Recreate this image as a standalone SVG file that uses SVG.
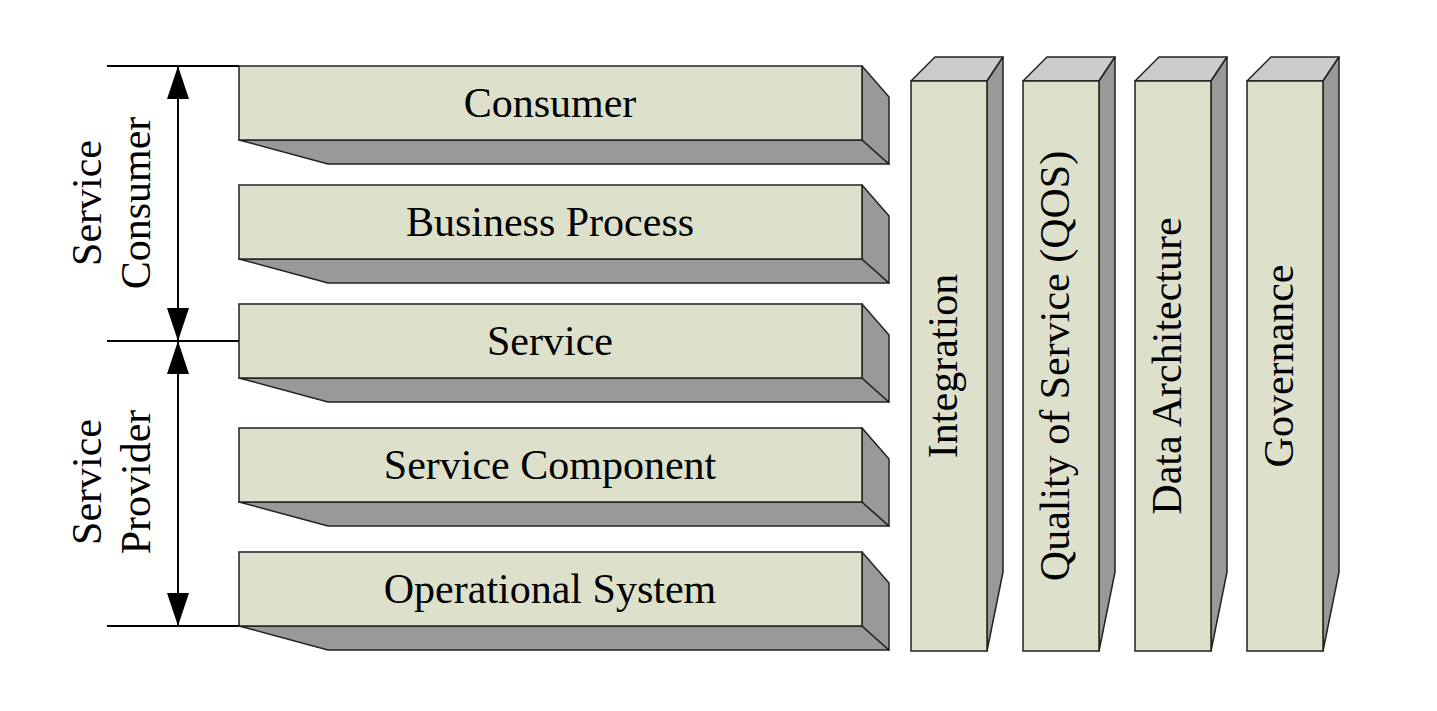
<svg xmlns="http://www.w3.org/2000/svg" width="1437" height="711" viewBox="0 0 1437 711">
<style>
.front{fill:#dde1cc;stroke:#222;stroke-width:1.5}
.side{fill:#999999;stroke:#222;stroke-width:1.5;stroke-linejoin:round}
.top{fill:#cccccc;stroke:#222;stroke-width:1.5;stroke-linejoin:round}
.lbl{font-family:"Liberation Serif","Times New Roman",serif;font-size:42px;fill:#000;text-anchor:middle}
.ln{stroke:#000;stroke-width:2;fill:none}
</style>
<defs>
<marker id="ah" viewBox="0 0 33 22" refX="33" refY="11" markerWidth="33" markerHeight="22" markerUnits="userSpaceOnUse" orient="auto">
<path d="M0,0 L33,11 L0,22 Z" fill="#000"/>
</marker>
</defs>
<rect width="1437" height="711" fill="#fff"/>

<g id="connectors">
<line class="ln" x1="107" y1="66" x2="239" y2="66"/>
<line class="ln" x1="107" y1="341" x2="239" y2="341"/>
<line class="ln" x1="107" y1="626" x2="239" y2="626"/>
<line class="ln" x1="178" y1="200" x2="178" y2="66" marker-end="url(#ah)"/>
<line class="ln" x1="178" y1="200" x2="178" y2="341" marker-end="url(#ah)"/>
<line class="ln" x1="178" y1="480" x2="178" y2="341" marker-end="url(#ah)"/>
<line class="ln" x1="178" y1="480" x2="178" y2="626" marker-end="url(#ah)"/>
</g>

<g id="label-service-consumer">
<text class="lbl" transform="translate(101,203) rotate(-90)">Service</text>
<text class="lbl" transform="translate(150,203) rotate(-90)">Consumer</text>
</g>
<g id="label-service-provider">
<text class="lbl" transform="translate(101,482) rotate(-90)">Service</text>
<text class="lbl" transform="translate(150,482) rotate(-90)">Provider</text>
</g>

<g id="consumer">
<polygon class="side" points="239,140 862,140 889,164 328,164"/>
<polygon class="side" points="862,66 889,97 889,164 862,140"/>
<rect class="front" x="239" y="66" width="623" height="74"/>
<text class="lbl" x="550" y="117">Consumer</text>
</g>
<g id="business-process">
<polygon class="side" points="239,259 862,259 889,283 328,283"/>
<polygon class="side" points="862,185 889,216 889,283 862,259"/>
<rect class="front" x="239" y="185" width="623" height="74"/>
<text class="lbl" x="550" y="236">Business Process</text>
</g>
<g id="service">
<polygon class="side" points="239,378 862,378 889,402 328,402"/>
<polygon class="side" points="862,304 889,335 889,402 862,378"/>
<rect class="front" x="239" y="304" width="623" height="74"/>
<text class="lbl" x="550" y="355">Service</text>
</g>
<g id="service-component">
<polygon class="side" points="239,502 862,502 889,526 328,526"/>
<polygon class="side" points="862,428 889,459 889,526 862,502"/>
<rect class="front" x="239" y="428" width="623" height="74"/>
<text class="lbl" x="550" y="479">Service Component</text>
</g>
<g id="operational-system">
<polygon class="side" points="239,626 862,626 889,650 328,650"/>
<polygon class="side" points="862,552 889,583 889,650 862,626"/>
<rect class="front" x="239" y="552" width="623" height="74"/>
<text class="lbl" x="550" y="603">Operational System</text>
</g>

<g id="integration">
<polygon class="top" points="911,81 935,57 1003,57 987,81"/>
<polygon class="side" points="987,81 1003,57 1003,572 987,651"/>
<rect class="front" x="911" y="81" width="76" height="570"/>
<text class="lbl" transform="translate(957,366) rotate(-90)">Integration</text>
</g>
<g id="qos">
<polygon class="top" points="1023,81 1047,57 1115,57 1099,81"/>
<polygon class="side" points="1099,81 1115,57 1115,572 1099,651"/>
<rect class="front" x="1023" y="81" width="76" height="570"/>
<text class="lbl" transform="translate(1069,366) rotate(-90)">Quality of Service (QOS)</text>
</g>
<g id="data-architecture">
<polygon class="top" points="1135,81 1159,57 1227,57 1211,81"/>
<polygon class="side" points="1211,81 1227,57 1227,572 1211,651"/>
<rect class="front" x="1135" y="81" width="76" height="570"/>
<text class="lbl" transform="translate(1181,366) rotate(-90)">Data Architecture</text>
</g>
<g id="governance">
<polygon class="top" points="1247,81 1271,57 1339,57 1323,81"/>
<polygon class="side" points="1323,81 1339,57 1339,572 1323,651"/>
<rect class="front" x="1247" y="81" width="76" height="570"/>
<text class="lbl" transform="translate(1293,366) rotate(-90)">Governance</text>
</g>
</svg>
